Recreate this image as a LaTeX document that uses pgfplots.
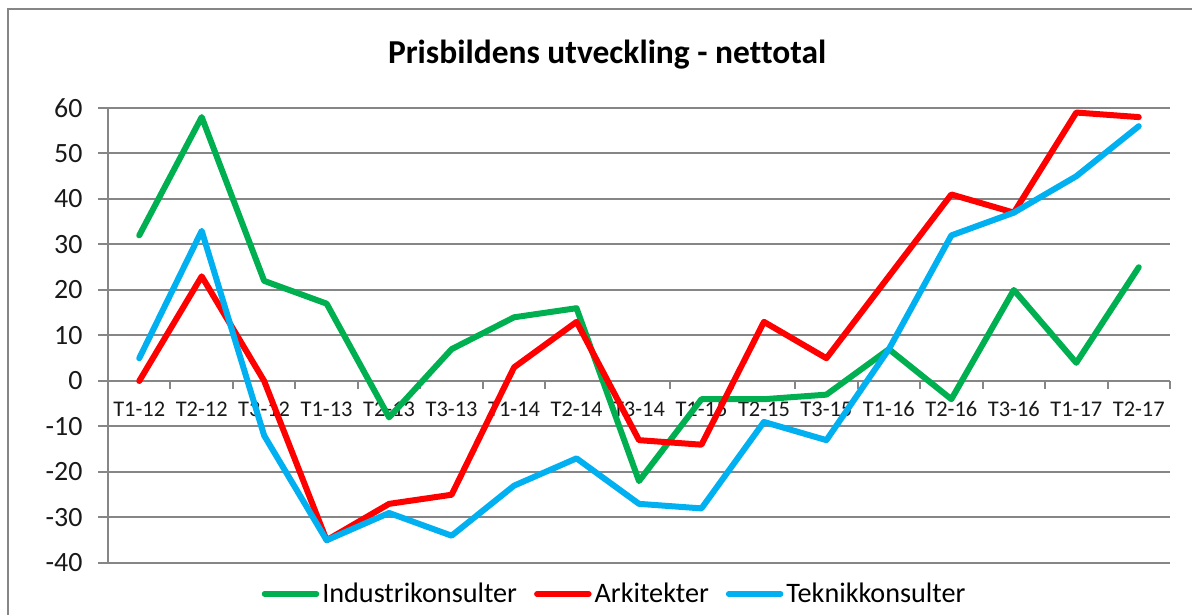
\documentclass[border=0pt]{standalone}
\usepackage{pgfplots}
\pgfplotsset{compat=1.18}
\usepackage{fontspec}
\setmainfont{Carlito}[Ligatures=NoCommon]
\definecolor{gridgray}{RGB}{134,134,134}
\definecolor{cgreen}{RGB}{0,176,80}
\definecolor{cred}{RGB}{255,0,0}
\definecolor{cblue}{RGB}{0,176,240}
\begin{document}
\begin{tikzpicture}
\useasboundingbox (0,0) rectangle (1192bp,615bp);
\draw[gridgray, line width=2bp] (8bp,0) -- (8bp,606bp) -- (1192bp,606bp);
\begin{axis}[
  at={(108bp,52bp)}, anchor=south west,
  width=1062bp, height=455bp, scale only axis,
  xmin=-0.5, xmax=16.5, ymin=-40, ymax=60,
  axis x line=middle, axis y line=left,
  axis line style={-, draw=gridgray, line width=2bp},
  ytick={-40,-30,...,60},
  ymajorgrids, grid style={gridgray, line width=2bp},
  xtick={0,...,16},
  xticklabels={T1-12,T2-12,T3-12,T1-13,T2-13,T3-13,T1-14,T2-14,T3-14,T1-15,T2-15,T3-15,T1-16,T2-16,T3-16,T1-17,T2-17},
  minor xtick={-0.5,0.5,...,16.5},
  tick align=outside,
  major tick length=10bp, minor tick length=8bp,
  tick style={gridgray, line width=2bp},
  major x tick style={draw=none},
  yticklabel style={font=\fontsize{28}{34}\selectfont, color=black!90, xshift=-12bp},
  xticklabel style={font=\fontsize{22.5}{27}\selectfont, color=black!90, anchor=center, yshift=-18bp},
  /pgf/number format/assume math mode=true,
  title={Prisbildens utveckling - nettotal},
  title style={at={(0.470,1.0855)}, anchor=base, font=\bfseries\fontsize{33.6}{40}\selectfont},
  legend style={at={(0.4775,-0.0680)}, anchor=center, draw=none, fill=none,
    legend columns=-1, font=\fontsize{28.3}{34}\selectfont,
    /tikz/every even column/.append style={column sep=14bp},
    nodes={inner sep=3bp}},
  legend image code/.code={\draw[#1, line width=5.5bp, line cap=round] (0bp,0bp) -- (52bp,0bp);},
  every axis plot/.append style={line width=6bp, line join=round, line cap=round},
]
\addplot[cgreen] coordinates {(0,32) (1,58) (2,22) (3,17) (4,-8) (5,7) (6,14) (7,16) (8,-22) (9,-4) (10,-4) (11,-3) (12,7) (13,-4) (14,20) (15,4) (16,25)};
\addplot[cred] coordinates {(0,0) (1,23) (2,0) (3,-35) (4,-27) (5,-25) (6,3) (7,13) (8,-13) (9,-14) (10,13) (11,5) (12,23) (13,41) (14,37) (15,59) (16,58)};
\addplot[cblue] coordinates {(0,5) (1,33) (2,-12) (3,-35) (4,-29) (5,-34) (6,-23) (7,-17) (8,-27) (9,-28) (10,-9) (11,-13) (12,7) (13,32) (14,37) (15,45) (16,56)};
\legend{Industrikonsulter,Arkitekter,Teknikkonsulter}
\end{axis}
\end{tikzpicture}
\end{document}
